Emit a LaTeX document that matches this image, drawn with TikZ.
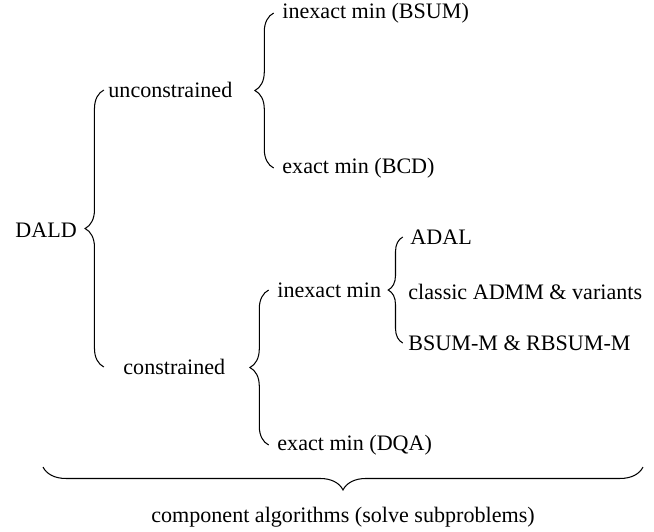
\documentclass[tikz,border=0pt]{standalone}
\usepackage{fontspec}
\setmainfont{Liberation Serif}
\usetikzlibrary{decorations.pathreplacing}

\tikzset{
  brc/.style={decorate,decoration={brace,amplitude=9pt},line width=.5pt},
  lbl/.style={anchor=west,inner sep=0pt},
}

\begin{document}
\begin{tikzpicture}[x=.48pt,y=-.48pt,font=\fontsize{10.6}{13}\selectfont]
  \useasboundingbox (0,0) rectangle (654,531);
  % the three levels of the tree
  \node[lbl] (dald) at (15,230) {DALD};
  \node[lbl] (unc) at (108,90) {unconstrained};
  \node[lbl] (con) at (123,367) {constrained};
  \node[lbl] (bsum) at (282,13) {inexact min (BSUM)};
  \node[lbl] (bcd) at (282,168) {exact min (BCD)};
  \node[lbl] (cin) at (277,290) {inexact min};
  \node[lbl] (dqa) at (277,445) {exact min (DQA)};
  \node[lbl] (adal) at (410,237) {ADAL};
  \node[lbl] (admm) at (408,292) {classic ADMM \& variants};
  \node[lbl] (bsumm) at (408,343) {BSUM-M \& RBSUM-M};
  \node[inner sep=0pt] (comp) at (343,517) {component algorithms (solve subproblems)};
  % braces, drawn bottom to top so the tip points left
  \coordinate (dtop) at ([xshift=-2pt]unc.west);
  \draw[brc] (dtop |- con.west) -- (dtop);
  \draw[brc] ([xshift=-4pt]bcd.west) -- ([xshift=-4pt]bsum.west);
  \draw[brc] ([xshift=-4pt]dqa.west) -- ([xshift=-4pt]cin.west);
  \coordinate (atop) at ([xshift=-2.5pt]bsumm.west);
  \draw[brc,decoration={amplitude=7pt}] (atop) -- (atop |- adal.west);
  % the one under everything
  \coordinate (bl) at (43,467);
  \coordinate (br) at (643,467);
  \draw[brc,decoration={amplitude=11pt}] (br) -- (bl);
\end{tikzpicture}
\end{document}
